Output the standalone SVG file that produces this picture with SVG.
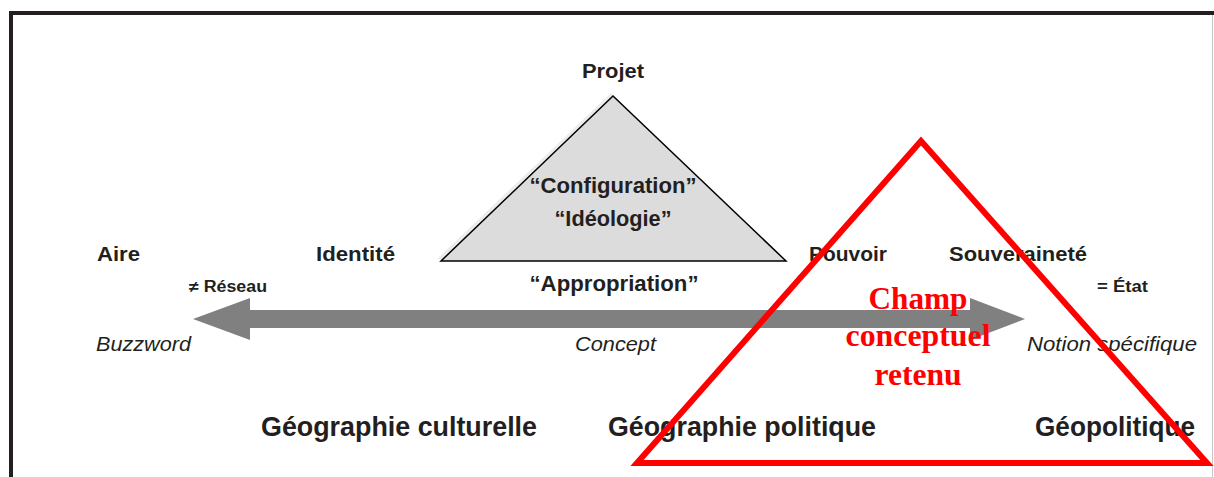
<svg xmlns="http://www.w3.org/2000/svg" width="1214" height="477" viewBox="0 0 1214 477">
<style>
.lbl{font-family:"Liberation Sans Narrow","Liberation Sans",Arial,sans-serif;font-weight:bold;fill:#231f20}
.it{font-family:"Liberation Sans Narrow","Liberation Sans",Arial,sans-serif;font-style:italic;fill:#231f20}
.red{font-family:"Liberation Serif","Times New Roman",serif;font-weight:bold;fill:#ff0000;font-size:31px}
</style>
<rect x="0" y="0" width="1214" height="477" fill="#ffffff"/>
<g id="frame">
<line x1="10" y1="13" x2="1214" y2="13" stroke="#231f20" stroke-width="4"/>
<line x1="11" y1="11" x2="11" y2="477" stroke="#231f20" stroke-width="4"/>
<line x1="1212.5" y1="15" x2="1212.5" y2="477" stroke="#c8c8c8" stroke-width="1"/>
</g>
<g id="connectors">
<polygon points="193,319 250,298 250,310 970,310 970,298 1025,319 970,340 970,328 250,328 250,340" fill="#808080"/>
</g>
<g id="triangle-projet">
<polygon points="611,93 437,259 784,259" fill="#ececec"/>
<polygon points="613,96 441,261 786,261" fill="#dcdcdc" stroke="#000" stroke-width="1.5"/>
</g>
<g id="labels">
<text class="lbl" x="613" y="78" font-size="21" text-anchor="middle" textLength="62" lengthAdjust="spacingAndGlyphs">Projet</text>
<text class="lbl" x="613" y="193" font-size="22" text-anchor="middle" textLength="167" lengthAdjust="spacingAndGlyphs">“Configuration”</text>
<text class="lbl" x="613" y="226" font-size="22" text-anchor="middle" textLength="117" lengthAdjust="spacingAndGlyphs">“Idéologie”</text>
<text class="lbl" x="614" y="291" font-size="22" text-anchor="middle" textLength="169" lengthAdjust="spacingAndGlyphs">“Appropriation”</text>
<text class="lbl" x="97" y="261" font-size="21" textLength="43" lengthAdjust="spacingAndGlyphs">Aire</text>
<text class="lbl" x="316" y="261" font-size="21" textLength="79" lengthAdjust="spacingAndGlyphs">Identité</text>
<text class="lbl" x="809" y="261" font-size="21" textLength="78" lengthAdjust="spacingAndGlyphs">Pouvoir</text>
<text class="lbl" x="949" y="261" font-size="21" textLength="138" lengthAdjust="spacingAndGlyphs">Souveraineté</text>
<text class="lbl" x="189" y="292" font-size="16" textLength="78" lengthAdjust="spacingAndGlyphs">≠ Réseau</text>
<text class="lbl" x="1097" y="292" font-size="16" textLength="51" lengthAdjust="spacingAndGlyphs">= État</text>
<text class="it" x="96" y="351" font-size="21" textLength="95" lengthAdjust="spacingAndGlyphs">Buzzword</text>
<text class="it" x="575" y="351" font-size="21" textLength="81" lengthAdjust="spacingAndGlyphs">Concept</text>
<text class="it" x="1027" y="351" font-size="21" textLength="170" lengthAdjust="spacingAndGlyphs">Notion spécifique</text>
<text class="lbl" x="261" y="436" font-size="28" textLength="276" lengthAdjust="spacingAndGlyphs">Géographie culturelle</text>
<text class="lbl" x="608" y="436" font-size="28" textLength="268" lengthAdjust="spacingAndGlyphs">Géographie politique</text>
<text class="lbl" x="1035" y="436" font-size="28" textLength="160" lengthAdjust="spacingAndGlyphs">Géopolitique</text>
</g>
<g id="champ-conceptuel">
<polygon points="921,141 637,463 1207,463" fill="none" stroke="#ff0000" stroke-width="6" stroke-linejoin="miter"/>
<text class="red" x="918" y="309" text-anchor="middle" textLength="99" lengthAdjust="spacingAndGlyphs">Champ</text>
<text class="red" x="918" y="346" text-anchor="middle" textLength="145" lengthAdjust="spacingAndGlyphs">conceptuel</text>
<text class="red" x="918" y="385" text-anchor="middle" textLength="87" lengthAdjust="spacingAndGlyphs">retenu</text>
</g>
</svg>
